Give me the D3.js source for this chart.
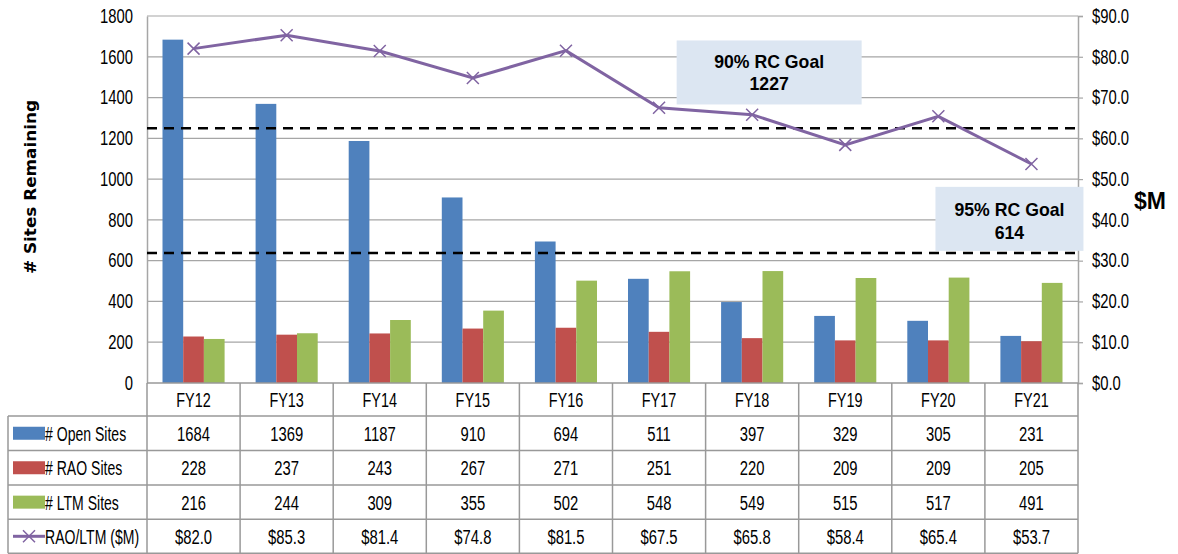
<!DOCTYPE html>
<html><head><meta charset="utf-8">
<script src="https://cdn.jsdelivr.net/npm/d3@7"></script>
<style>
body{margin:0;background:#fff;}
text{font-family:"Liberation Sans",Arial,sans-serif;}
</style></head><body>
<svg id="c" width="1178" height="554"></svg>
<script>
const categories = ["FY12","FY13","FY14","FY15","FY16","FY17","FY18","FY19","FY20","FY21"];
const openSites = [1684,1369,1187,910,694,511,397,329,305,231];
const raoSites = [228,237,243,267,271,251,220,209,209,205];
const ltmSites = [216,244,309,355,502,548,549,515,517,491];
const raoLtmCost = [82.0,85.3,81.4,74.8,81.5,67.5,65.8,58.4,65.4,53.7];
const leftTicks = [0,200,400,600,800,1000,1200,1400,1600,1800];
const rightTicks = [0,10,20,30,40,50,60,70,80,90];
const goalLabels = ["90% RC Goal","95% RC Goal"];
const goalValues = [1227,614];
const goalLineLevels = [1250,637];
const seriesNames = ["# Open Sites","# RAO Sites","# LTM Sites","RAO/LTM ($M)"];
const colors = ["#4f81bd","#c0504d","#9bbb59","#8064a2"];

const svg = d3.select("#c");
const L = 147, R = 1078, T = 16, B = 383;
const FS = 19.5;
const x = d3.scaleBand().domain(categories).range([L,R]).paddingInner(0).paddingOuter(0);
const yL = d3.scaleLinear().domain([0,1800]).range([B,T]);
const yR = d3.scaleLinear().domain([0,90]).range([B,T]);
const barSeries = [openSites, raoSites, ltmSites];
const groupW = x.bandwidth()*0.667;
const xs = d3.scaleBand().domain([0,1,2]).range([0,groupW]);

function narrow(sel, r){
  sel.each(function(){
    const w = this.getComputedTextLength();
    d3.select(this).attr("textLength", w*r).attr("lengthAdjust","spacingAndGlyphs");
  });
}

// gridlines
svg.append("g").selectAll("line").data(leftTicks.slice(1)).join("line")
  .attr("x1",L).attr("x2",R).attr("y1",d=>yL(d)).attr("y2",d=>yL(d))
  .attr("stroke","#a6a6a6").attr("stroke-width",1.2);

// left axis
const la = svg.append("g").attr("transform",`translate(${L},0)`)
  .call(d3.axisLeft(yL).tickValues(leftTicks).tickSize(0).tickPadding(14).tickFormat(d3.format("d")));
la.select(".domain").attr("stroke","#a6a6a6").attr("stroke-width",1.5);
la.selectAll("text").attr("font-size",FS).attr("fill","#000").call(narrow,0.76);

// right axis
const ra = svg.append("g").attr("transform",`translate(${R},0)`)
  .call(d3.axisRight(yR).tickValues(rightTicks).tickSize(5).tickPadding(9).tickFormat(d=>"$"+d3.format(".1f")(d)));
ra.select(".domain").attr("stroke","#a6a6a6").attr("stroke-width",1.5);
ra.selectAll("line").attr("stroke","#a6a6a6").attr("stroke-width",1.2);
ra.selectAll("text").attr("font-size",FS).attr("fill","#000").call(narrow,0.76);

// bars
barSeries.forEach((vals,si)=>{
  svg.append("g").selectAll("rect").data(vals).join("rect")
    .attr("x",(d,i)=>x(categories[i]) + (x.bandwidth()-groupW)/2 + xs(si))
    .attr("width",xs.bandwidth())
    .attr("y",d=>yL(d)).attr("height",d=>B-yL(d))
    .attr("fill",colors[si]);
});

// goal dashed lines
svg.append("g").selectAll("line").data(goalLineLevels).join("line")
  .attr("x1",L).attr("x2",R).attr("y1",d=>yL(d)).attr("y2",d=>yL(d))
  .attr("stroke","#000").attr("stroke-width",2.5).attr("stroke-dasharray","10,7");

// cost line
const line = d3.line().x((d,i)=>x(categories[i])+x.bandwidth()/2).y(d=>yR(d));
svg.append("path").datum(raoLtmCost).attr("d",line)
  .attr("fill","none").attr("stroke",colors[3]).attr("stroke-width",3);
function xMark(g, cx, cy, s){
  g.append("path").attr("d",`M${cx-s},${cy-s}L${cx+s},${cy+s}M${cx-s},${cy+s}L${cx+s},${cy-s}`)
    .attr("stroke",colors[3]).attr("stroke-width",1.5).attr("fill","none");
}
const mg = svg.append("g");
raoLtmCost.forEach((d,i)=>xMark(mg, x(categories[i])+x.bandwidth()/2, yR(d), 6));

// goal annotation boxes
const boxes = [
  {label:goalLabels[0], val:goalValues[0], cat:"FY18", dx:17, yv:1680, w:185, h:64, b1:28, b2:50},
  {label:goalLabels[1], val:goalValues[1], cat:"FY21", dx:-22, yv:962, w:148, h:64, b1:29, b2:52}
];
boxes.forEach((b,i)=>{
  const cx = x(b.cat)+x.bandwidth()/2 + b.dx;
  const top = yL(b.yv);
  const g = svg.append("g");
  g.append("rect").attr("x",cx-b.w/2).attr("y",top).attr("width",b.w).attr("height",b.h).attr("fill","#dce6f2");
  g.append("text").attr("x",cx).attr("y",top+b.b1).attr("text-anchor","middle")
    .attr("font-weight","bold").attr("font-size",19).text(b.label).call(narrow,0.93);
  g.append("text").attr("x",cx).attr("y",top+b.b2).attr("text-anchor","middle")
    .attr("font-weight","bold").attr("font-size",19).text(b.val).call(narrow,0.93);
});

// axis titles
svg.append("text").attr("transform","translate(36,187) rotate(-90)").attr("text-anchor","middle")
  .style("font-family","'DejaVu Sans',sans-serif").attr("font-weight","bold").attr("font-size",15)
  .attr("textLength",174).attr("lengthAdjust","spacingAndGlyphs").text("# Sites Remaining");
svg.append("text").attr("x",1150).attr("y",209).attr("text-anchor","middle")
  .attr("font-weight","bold").attr("font-size",23).text("$M");

// data table
const rowTops = [383,416,450.5,485,519.3,553.3];
const tLeft = 8;
const tg = svg.append("g");
const gridC = "#999";
categories.forEach((c,i)=>{
  tg.append("text").attr("x",x(c)+x.bandwidth()/2).attr("y",(rowTops[0]+rowTops[1])/2+7.5)
    .attr("text-anchor","middle").attr("font-size",FS).text(c).call(narrow,0.74);
});
categories.forEach((c,i)=>{
  tg.append("line").attr("x1",x(c)).attr("x2",x(c)).attr("y1",B).attr("y2",rowTops[5])
    .attr("stroke",gridC).attr("stroke-width",1.5);
});
tg.append("line").attr("x1",R).attr("x2",R).attr("y1",B).attr("y2",rowTops[5]).attr("stroke",gridC).attr("stroke-width",1.5);
tg.append("line").attr("x1",tLeft).attr("x2",tLeft).attr("y1",rowTops[1]).attr("y2",rowTops[5]).attr("stroke",gridC).attr("stroke-width",1.5);
rowTops.slice(1).forEach(yy=>{
  tg.append("line").attr("x1",tLeft).attr("x2",R).attr("y1",yy).attr("y2",yy).attr("stroke",gridC).attr("stroke-width",1.5);
});
tg.append("line").attr("x1",L).attr("x2",R).attr("y1",B).attr("y2",B).attr("stroke",gridC).attr("stroke-width",1.5);

const rowData = [openSites, raoSites, ltmSites, raoLtmCost];
rowData.forEach((vals,ri)=>{
  const yMid = (rowTops[ri+1]+rowTops[ri+2])/2;
  if(ri<3){
    tg.append("rect").attr("x",13).attr("y",yMid-6.5).attr("width",32).attr("height",13).attr("fill",colors[ri]);
  } else {
    tg.append("line").attr("x1",13).attr("x2",45).attr("y1",yMid).attr("y2",yMid).attr("stroke",colors[3]).attr("stroke-width",3);
    xMark(tg, 29, yMid, 6);
  }
  tg.append("text").attr("x",45).attr("y",yMid+7.5).attr("font-size",FS).text(seriesNames[ri]).call(narrow,0.72);
  vals.forEach((v,i)=>{
    tg.append("text").attr("x",x(categories[i])+x.bandwidth()/2).attr("y",yMid+7.5)
      .attr("text-anchor","middle").attr("font-size",FS)
      .text(ri===3 ? "$"+d3.format(".1f")(v) : v).call(narrow,0.76);
  });
});
</script></body></html>
